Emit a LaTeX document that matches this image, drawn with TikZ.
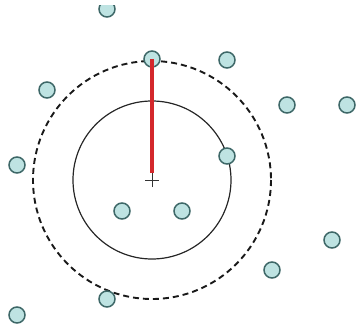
\documentclass[tikz,border=0pt]{standalone}
\usepackage{tikz}
\usetikzlibrary{arrows.meta}
\definecolor{dotfill}{RGB}{190,227,226}
\definecolor{dotline}{RGB}{62,104,104}
\definecolor{radred}{RGB}{212,40,44}

\begin{document}
\begin{tikzpicture}[x=1pt,y=-1pt,
  pt/.style={circle,draw=dotline,fill=dotfill,line width=1.5pt,minimum size=16pt,inner sep=0pt}]
\useasboundingbox (0,0) rectangle (357,324);
\clip (0,5) rectangle (357,324);
\coordinate (c) at (152,180);
\draw[line width=1.2pt,black!85] (c) circle (79);
\draw[line width=1.9pt,dash pattern=on 6pt off 4pt,black!90] (c) circle (119);
% the data points, p2 sits on the dashed circle
\foreach \p [count=\i] in {(107,9),(152,59),(227,60),(47,90),(287,105),(347,105),
                           (227,156),(17,165),(122,211),(182,211),(332,240),
                           (272,270),(107,299),(17,315)}
  \node[pt] (p\i) at \p {};
% radius to the farthest point
\coordinate (r) at (152,173);
\draw[line width=3.3pt,radred] (p2.center) -- (r);
\draw[line width=1pt,black!80] ([xshift=-7pt]c) -- ([xshift=7pt]c)
      ([yshift=-7pt]c) -- ([yshift=7pt]c);
\end{tikzpicture}
\end{document}
